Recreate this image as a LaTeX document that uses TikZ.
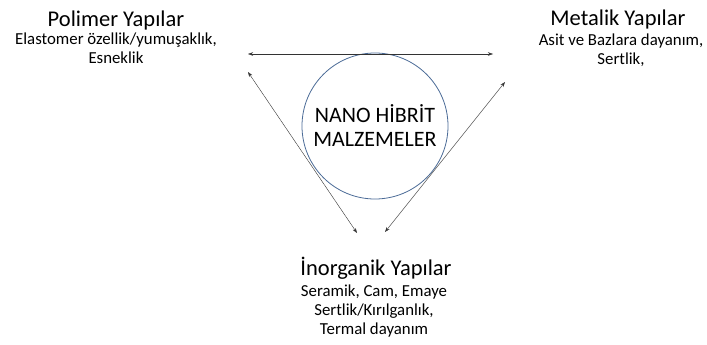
\documentclass[tikz,border=0pt]{standalone}
\usepackage{fontspec}
\setmainfont{Carlito}
\usetikzlibrary{arrows.meta}
\definecolor{ringblue}{HTML}{4A6A96}
\tikzset{
  titlelabel/.style={anchor=base, inner sep=0pt, font=\fontsize{22.5}{26}\selectfont},
  sublabel/.style={anchor=north, inner sep=0pt, align=center, font=\fontsize{16.8}{19}\selectfont},
  link/.style={thin, black!80, {Stealth[length=5pt,width=3.5pt]}-{Stealth[length=5pt,width=3.5pt]}},
  core/.style={circle, draw=ringblue, thick, minimum size=146pt, inner sep=0pt, align=center,
    font=\fontsize{22}{24}\selectfont},
}

\begin{document}
\begin{tikzpicture}[x=1pt,y=-1pt]
        \useasboundingbox (0,0) rectangle (707,345);

        % central circle
        \node[core] (hybrid) at (375,126) {NANO HİBRİT\\MALZEMELER};

        % labels
        \node[titlelabel] (polymer) at (116,27) {Polimer Yapılar};
        \node[sublabel] (polymerSub) at (116,33) {Elastomer özellik/yumuşaklık,\\Esneklik};
        \node[titlelabel] (metal) at (618,26) {Metalik Yapılar};
        \node[sublabel] (metalSub) at (621,34) {Asit ve Bazlara dayanım,\\Sertlik,};
        \node[titlelabel] (inorg) at (376,275) {İnorganik Yapılar};
        \node[sublabel] (inorgSub) at (374,285) {Seramik, Cam, Emaye\\Sertlik/Kırılganlık,\\Termal dayanım};

        % arrow ends
        \coordinate (topL) at (248,54);
        \coordinate (topR) at (493,54);
        \coordinate (sideL) at (248,72);
        \coordinate (botL) at (357,233);
        \coordinate (sideR) at (505,82);
        \coordinate (botR) at (385,232);

        % double arrows between the groups
        \draw[link] (topL) -- (topR);
        \draw[link] (sideL) -- (botL);
        \draw[link] (sideR) -- (botR);
\end{tikzpicture}
\end{document}
